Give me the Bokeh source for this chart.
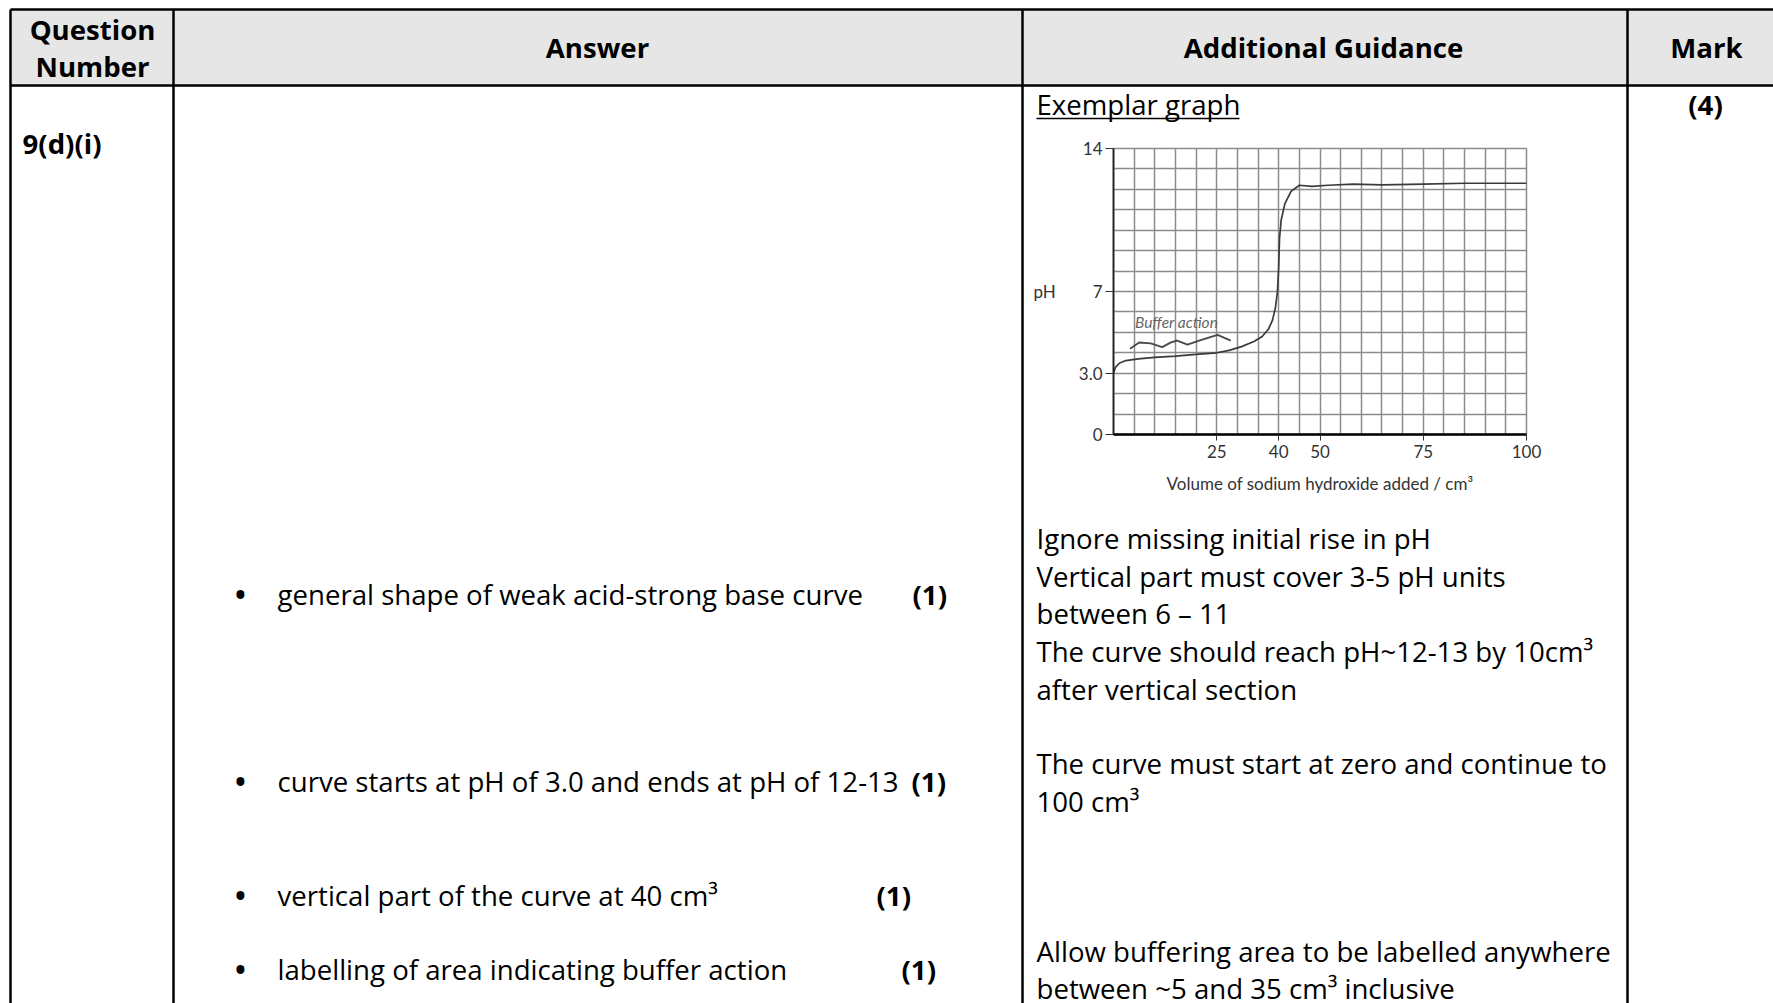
from bokeh.plotting import figure
from bokeh.models import Range1d, FixedTicker, GridBox, Label
from bokeh.core.properties import value
from bokeh.embed import file_html
from bokeh.resources import INLINE

# ---------------- data ----------------
volume_cm3 = [0, 0.5, 1.5, 3, 6, 10, 15, 20, 25, 28, 31, 34, 36, 37.5, 38.5,
              39.2, 39.7, 40.0, 40.2, 40.6, 41.5, 43, 45, 48, 52, 58, 65, 75, 85, 100]
ph_values = [3.0, 3.3, 3.5, 3.62, 3.7, 3.78, 3.84, 3.92, 4.0, 4.12, 4.3, 4.55, 4.8, 5.15, 5.6,
             6.2, 7.0, 8.2, 9.6, 10.5, 11.3, 11.9, 12.2, 12.15, 12.2, 12.26, 12.22, 12.26, 12.3, 12.3]
buffer_wave_x = [4.0, 6.2, 9.0, 11.8, 13.8, 15.4, 17.9, 21.1, 25.2, 28.4]
buffer_wave_ph = [4.2, 4.5, 4.46, 4.28, 4.5, 4.6, 4.4, 4.62, 4.88, 4.6]
buffer_label = "Buffer action"
x_ticks = [25, 40, 50, 75, 100]
y_ticks = [0, 3, 7, 14]
y_tick_overrides = {3: "3.0"}
x_axis_title = "Volume of sodium hydroxide added / cm\u00b3"
y_axis_title = "pH"

header_lines = ["Question", "Number", "Answer", "Additional Guidance", "Mark"]
question_id = "9(d)(i)"
total_mark = "(4)"
exemplar_title = "Exemplar graph"
answer_points = ["general shape of weak acid-strong base curve",
                 "curve starts at pH of 3.0 and ends at pH of 12-13",
                 "vertical part of the curve at 40 cm\u00b3",
                 "labelling of area indicating buffer action"]
answer_marks = ["(1)", "(1)", "(1)", "(1)"]
guidance_lines = ["Ignore missing initial rise in pH",
                  "Vertical part must cover 3-5 pH units",
                  "between 6 \u2013 11",
                  "The curve should reach pH~12-13 by 10cm\u00b3",
                  "after vertical section",
                  "The curve must start at zero and continue to",
                  "100 cm\u00b3",
                  "Allow buffering area to be labelled anywhere",
                  "between ~5 and 35 cm\u00b3 inclusive"]

# ---------------- layout (page pixels) ----------------
W, H = 1773, 1003
FONT = value("Open Sans")
FS = value("27.6px")

t = figure(width=W, height=H, x_range=Range1d(0, W), y_range=Range1d(H, 0),
           output_backend="svg", toolbar_location=None, min_border=0)
t.axis.visible = False
t.grid.visible = False
t.outline_line_color = None
t.background_fill_color = "white"
t.border_fill_color = "white"

# header background
t.quad(left=[10], right=[W], top=[9], bottom=[85],
       fill_color="#e7e6e6", line_color=None)

# table rules
hy = [9, 85]
t.segment(x0=[10, 10], y0=hy, x1=[W, W], y1=hy, line_color="black", line_width=2.5)
vx = [10, 173, 1022, 1627]
t.segment(x0=vx, y0=[9] * 4, x1=vx, y1=[H] * 4, line_color="black", line_width=2.5)

# header texts
t.text(x=[92, 92, 597, 1323, 1706],
       y=[28, 65, 46, 46, 46],
       text=header_lines, text_font=FONT, text_font_size=FS,
       text_font_style="bold", text_align="center", text_baseline="middle",
       text_color="black")

# body bold texts
t.text(x=[22], y=[142], text=[question_id], text_font=FONT, text_font_size=FS,
       text_font_style="bold", text_align="left", text_baseline="middle", text_color="black")
t.text(x=[1705], y=[103], text=[total_mark], text_font=FONT, text_font_size=FS,
       text_font_style="bold", text_align="center", text_baseline="middle", text_color="black")

# exemplar title underlined
t.text(x=[1036], y=[103], text=[exemplar_title], text_font=FONT, text_font_size=FS,
       text_align="left", text_baseline="middle", text_color="black")
t.segment(x0=[1036], y0=[118], x1=[1239], y1=[118], line_color="black", line_width=1.5)

# answer bullets
ans_y = [593, 780, 894, 968]
t.text(x=[240] * 4, y=ans_y, text=["\u2022"] * 4, text_font=FONT, text_font_size=value("38px"),
       text_align="center", text_baseline="middle", text_color="black")
t.text(x=[277] * 4, y=ans_y, text=answer_points, text_font=FONT, text_font_size=FS,
       text_align="left", text_baseline="middle", text_color="black")
t.text(x=[912, 911, 876, 901], y=ans_y, text=answer_marks, text_font=FONT,
       text_font_size=FS, text_font_style="bold", text_align="left", text_baseline="middle",
       text_color="black")

# guidance
g_y = [537, 575, 612, 650, 688, 762, 800, 950, 987]
t.text(x=[1036] * len(guidance_lines), y=g_y, text=guidance_lines, text_font=FONT,
       text_font_size=FS, text_align="left", text_baseline="middle", text_color="black")

# ---------------- chart ----------------
CF = "Lato"
c = figure(width=530, height=388, x_range=Range1d(0, 100), y_range=Range1d(0, 14),
           output_backend="svg", toolbar_location=None,
           min_border_left=83, min_border_right=34, min_border_top=26, min_border_bottom=76)
c.background_fill_color = "white"
c.border_fill_color = "white"
c.outline_line_color = "#8c8c8c"
c.outline_line_width = 1.5

c.xgrid.ticker = FixedTicker(ticks=list(range(0, 101, 5)))
c.ygrid.ticker = FixedTicker(ticks=list(range(0, 15)))
c.grid.grid_line_color = "#8c8c8c"
c.grid.grid_line_width = 1.5
c.grid.grid_line_alpha = 1.0

c.xaxis.ticker = FixedTicker(ticks=x_ticks)
c.yaxis.ticker = FixedTicker(ticks=y_ticks)
c.yaxis.major_label_overrides = y_tick_overrides
c.axis.minor_tick_line_color = None
c.axis.major_tick_in = 0
c.xaxis.major_tick_out = 6
c.yaxis.major_tick_out = 8
c.axis.major_tick_line_color = "#333333"
c.axis.major_label_text_font = CF
c.axis.major_label_text_font_size = "17px"
c.axis.major_label_text_color = "#333333"
c.xaxis.major_label_standoff = 4
c.yaxis.major_label_standoff = 3
c.xaxis.axis_line_color = "black"
c.xaxis.axis_line_width = 2.5
c.yaxis.axis_line_color = "#222222"
c.yaxis.axis_line_width = 1.8

c.xaxis.axis_label = x_axis_title
c.yaxis.axis_label = y_axis_title
c.axis.axis_label_text_font = CF
c.axis.axis_label_text_font_size = "17px"
c.axis.axis_label_text_font_style = "normal"
c.axis.axis_label_text_color = "#333333"
c.xaxis.axis_label_standoff = 12
c.yaxis.axis_label_standoff = 20
c.yaxis.axis_label_orientation = "horizontal"

c.line(volume_cm3, ph_values, line_color="#3a3a3a", line_width=1.7)
c.line(buffer_wave_x, buffer_wave_ph, line_color="#4a4a4a", line_width=1.9)
c.add_layout(Label(x=buffer_wave_x[0] + 1.2, y=5.5, text=buffer_label, text_font=CF,
                   text_font_style="italic", text_font_size="15.5px", text_color="#666666",
                   text_baseline="middle"))

layout = GridBox(children=[(t, 0, 0, 3, 3), (c, 1, 1)],
                 rows=["122px", "388px", "493px"], cols=["1030px", "530px", "213px"],
                 spacing=0)

p = layout
open("out.html", "w").write(file_html(p, INLINE))
